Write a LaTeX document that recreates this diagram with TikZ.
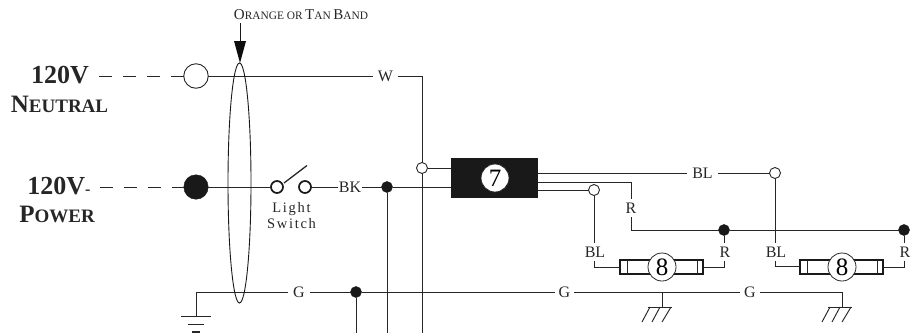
\documentclass[tikz,border=0pt]{standalone}
\usepackage{fontspec}
\usetikzlibrary{shapes.geometric}
\setmainfont{Liberation Serif}
\newfontfamily\spacedfont[LetterSpace=12]{Liberation Serif}
\newcommand{\fsz}[1]{\fontsize{#1}{#1}\selectfont}
\newcommand{\capsA}[1]{{\fsz{15}#1}}
\newcommand{\capsB}[1]{{\fsz{11.4}#1}}
\tikzset{
  wire/.style={line width=0.95pt,black!85},
  dashwire/.style={line width=0.95pt,black!85,dash pattern=on 13pt off 11pt},
  openj/.style={circle,draw=black!85,fill=white,line width=0.9pt,minimum size=11pt,inner sep=0pt,outer sep=0pt},
  solidj/.style={circle,draw=black!90,fill=black!90,line width=0.5pt,minimum size=11pt,inner sep=0pt,outer sep=0pt},
  terminal/.style={circle,draw=black!85,fill=white,line width=0.9pt,minimum size=24.5pt,inner sep=0pt,outer sep=0pt},
  termsolid/.style={circle,draw=black!90,fill=black!90,minimum size=24.5pt,inner sep=0pt,outer sep=0pt},
  swpt/.style={circle,draw=black!90,fill=white,line width=1.7pt,minimum size=12pt,inner sep=0pt,outer sep=0pt},
  lbl/.style={font=\fsz{16},text=black!85,inner sep=0pt,outer sep=4pt},
  numc/.style={circle,draw=black!85,fill=white,line width=0.8pt,minimum size=28pt,inner sep=0pt,outer sep=0pt,font=\fsz{25}},
  lamp/.style={draw=black!90,fill=white,line width=1.7pt,minimum width=83pt,minimum height=14pt,inner sep=0pt,outer sep=0pt},
  ctrl/.style={fill=black!90,minimum width=87pt,minimum height=40pt,inner sep=0pt,outer sep=0pt},
  ttl/.style={inner sep=0pt,text=black!85,align=center},
  groundline/.style={line width=0.95pt,black!85},
}
\begin{document}
\begin{tikzpicture}[x=1pt,y=-1pt]
\useasboundingbox (0,0) rectangle (912,333);
% terminals
\node[terminal] (tn) at (196,76) {};
\node[termsolid] (tp) at (196,187) {};
\node[ttl] (vn) at (60,75) {\fsz{26}\bfseries 120V};
\node[ttl] (nn) at (59.5,104) {\bfseries\fsz{25}N\fsz{19}EUTRAL};
\node[ttl] (vp) at (59,186) {\bfseries\fsz{26}120V\fsz{16}-};
\node[ttl] (pn) at (57,214) {\bfseries\fsz{25}P\fsz{19}OWER};
\coordinate (dn) at (99,76);
\coordinate (dp) at (100,187);
\draw[dashwire] (dn) -- (tn);
\draw[dashwire] (dp) -- (tp);
% band
\node[ttl] (band) at (301,15) {\capsA{O}\capsB{RANGE OR} \capsA{T}\capsB{AN} \capsA{B}\capsB{AND}};
\coordinate (bandtop) at (240,23);
\coordinate (bandtip) at (240,63);
\coordinate (bandbase) at (240,41);
\draw[line width=0.9pt,black!90] (bandtop) -- (bandbase);
\fill[black!95] (234,41) -- (246,41) -- (bandtip) -- cycle;
% controller and labels
\node[ctrl] (box) at (494.5,178) {};
\node[numc] (n7) at (495,178) {7};
\node[lbl,outer sep=4.5pt] (lw) at (385.5,76) {W};
\node[lbl,outer sep=1pt] (lbk) at (350,187) {BK};
\node[lbl,outer sep=5pt] (lg1) at (299,292) {G};
\node[lbl] (lg2) at (564.5,292) {G};
\node[lbl] (lg3) at (750,292) {G};
\node[lbl,outer sep=5pt] (lb1) at (702.5,173) {BL};
\node[lbl] (lb2) at (595,252) {BL};
\node[lbl] (lb3) at (776,252) {BL};
\node[lbl] (lr1) at (631,208) {R};
\node[lbl] (lr2) at (725,252) {R};
\node[lbl] (lr3) at (905,252) {R};
% junctions
\node[solidj] (jbk) at (387,187) {};
\node[solidj] (jg) at (356,292) {};
\node[solidj] (jr1) at (724,230) {};
\node[solidj] (jr2) at (904,230) {};
\node[openj] (jo1) at (594,190) {};
\node[openj] (jo2) at (775,173) {};
% coordinates
\coordinate (wcorner) at (422,76);
\coordinate (wend) at (422,333);
\coordinate (bkend) at (387,333);
\coordinate (gend) at (356,333);
\coordinate (gl) at (196,292);
\coordinate (glb) at (196,316.5);
\coordinate (boxw) at (451,168);
\coordinate (sw1) at (284,183);
\coordinate (sw2) at (307,165.5);
\coordinate (r1) at (631,182);
\coordinate (r2) at (631,230);
\coordinate (bl1c) at (594,267);
\coordinate (bl2c) at (775,266);
\coordinate (r1c) at (724,267);
\coordinate (r2c) at (904,267);
\coordinate (g1g) at (662,292);
\coordinate (g2g) at (842,292);
\coordinate (g1b) at (662,307);
\coordinate (g2b) at (842,307);
% white wire
\draw[wire] (tn) -- (lw);
\draw[wire] (lw) -- (wcorner) -- (wend);
\node[openj] (jw) at (422,168) {};
\draw[wire] (jw) -- (boxw);
% switch
\node[swpt] (s1) at (277,187) {};
\node[swpt] (s2) at (305,187) {};
\node[font=\spacedfont\fsz{14.5},text=black!85,inner sep=0pt,align=center] (swl) at (291.5,215.5) {Light\\[1.2pt]Switch};
\draw[wire] (tp) -- (s1);
\draw[wire] (s2) -- (lbk);
\draw[wire,line width=1.3pt] (sw1) -- (sw2);
\draw[wire] (lbk) -- (jbk);
\draw[wire] (jbk) -- (box.west |- jbk);
\draw[wire] (jbk) -- (bkend);
% ground
\draw[wire] (lg1) -- (gl) -- (glb);
\coordinate (bar1a) at (181,316.5); \coordinate (bar1b) at (211,316.5);
\coordinate (bar2a) at (188,324.5); \coordinate (bar2b) at (204,324.5);
\coordinate (bar3a) at (192,332); \coordinate (bar3b) at (200,332);
\draw[wire,line width=1.1pt] (bar1a) -- (bar1b);
\draw[wire,line width=1.1pt] (bar2a) -- (bar2b);
\draw[wire,line width=1.1pt] (bar3a) -- (bar3b);
\draw[wire] (lg1) -- (jg);
\draw[wire] (jg) -- (lg2);
\draw[wire] (lg2) -- (lg3);
\draw[wire] (jg) -- (gend);
\draw[wire] (lg3) -- (g2g) -- (g2b);
\draw[wire] (g1g) -- (g1b);
\foreach \x in {662,842}{
  \draw[groundline] (\x-14,307) -- (\x+10,307);
  \draw[groundline] (\x-12,307) -- (\x-20,322);
  \draw[groundline] (\x-2,307) -- (\x-10,322);
  \draw[groundline] (\x+9,307) -- (\x+0,322);
}
% band ellipse, not filled
\node[draw=black!90,line width=0.9pt,ellipse,minimum width=23pt,minimum height=240pt,inner sep=0pt] (bandring) at (239.5,183) {};
% outputs
\draw[wire] (box.east |- lb1) -- (lb1);
\draw[wire] (lb1) -- (jo2);
\draw[wire] (box.east |- r1) -- (r1) -- (lr1);
\draw[wire] (lr1) -- (r2) -- (jr1);
\draw[wire] (jr1) -- (jr2);
\draw[wire] (box.east |- jo1) -- (jo1);
\draw[wire] (jo1) -- (jo1 |- lb2.north);
\draw[wire] (jo2) -- (jo2 |- lb3.north);
\draw[wire] (jr1) -- (jr1 |- lr2.north);
\draw[wire] (jr2) -- (jr2 |- lr3.north);
% lamps
\node[lamp] (l1) at (661.5,267) {};
\node[lamp] (l2) at (841.5,267) {};
\foreach \l in {l1,l2}{
  \draw[line width=0.7pt,black!85] ([xshift=7pt]\l.north west) -- ([xshift=7pt]\l.south west);
  \draw[line width=0.7pt,black!85] ([xshift=-5.5pt]\l.north east) -- ([xshift=-5.5pt]\l.south east);
}
\node[numc] (n8a) at (662,267) {8};
\node[numc] (n8b) at (842,267) {8};
\draw[wire] (bl1c |- lb2.south) -- (bl1c) -- (l1.west);
\draw[wire] (bl2c |- lb3.south) -- (bl2c) -- (l2.west |- bl2c);
\draw[wire] (l1.east) -- (r1c) -- (r1c |- lr2.south);
\draw[wire] (l2.east) -- (r2c) -- (r2c |- lr3.south);
\end{tikzpicture}
\end{document}
